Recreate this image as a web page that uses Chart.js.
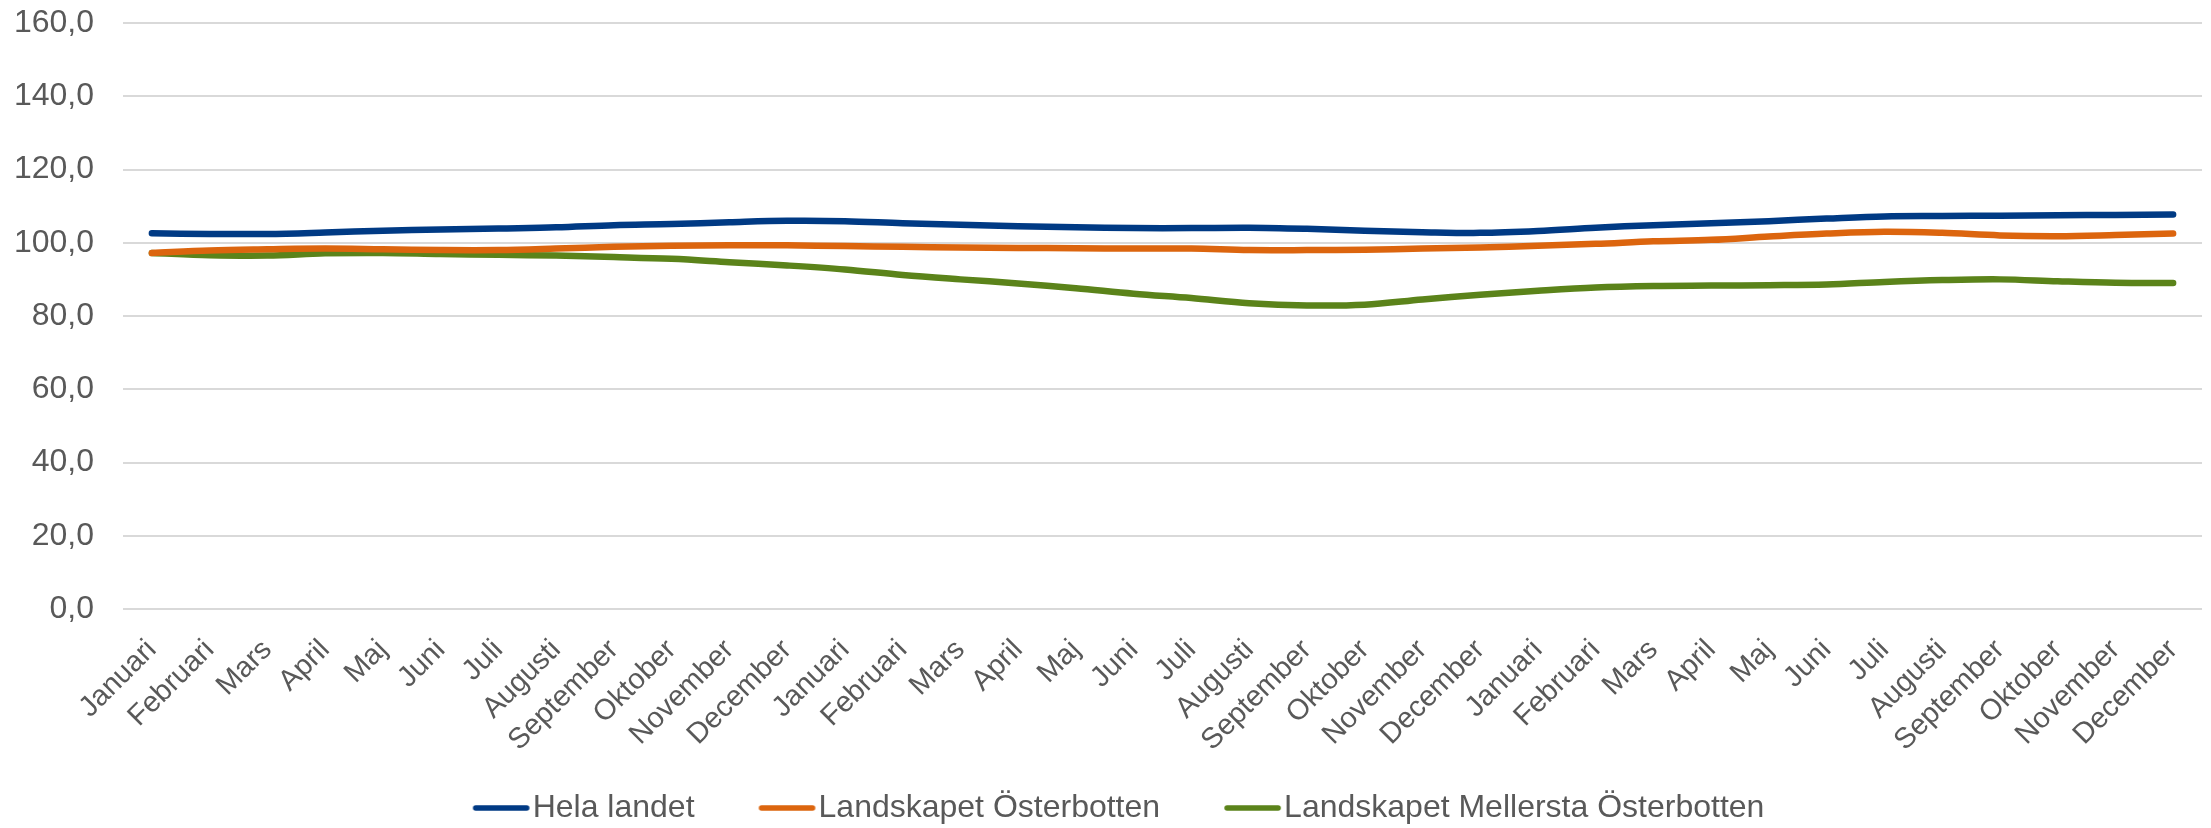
<!DOCTYPE html>
<html lang="sv">
<head>
    <meta charset="UTF-8">
    <title>Index</title>
    <script src="https://cdn.jsdelivr.net/npm/chart.js"></script>
    <style>
        html, body { margin: 0; padding: 0; background: #fff; }
        #wrap { width: 2211px; height: 828px; position: relative; }
    </style>
</head>
<body>
    <div id="wrap"><canvas id="indexChart"></canvas></div>

    <script>
        // Månader, tre år i rad
        const months = ['Januari', 'Februari', 'Mars', 'April', 'Maj', 'Juni',
                        'Juli', 'Augusti', 'September', 'Oktober', 'November', 'December'];
        const labels = [...months, ...months, ...months];

        const helaLandet = [102.6, 102.4, 102.4, 102.8, 103.3, 103.6, 103.9, 104.2, 104.8, 105.1, 105.6, 106.0,
                            105.9, 105.3, 104.9, 104.5, 104.2, 104.0, 104.0, 104.1, 103.8, 103.3, 102.9, 102.7,
                            103.2, 104.1, 104.8, 105.3, 105.9, 106.6, 107.2, 107.3, 107.4, 107.5, 107.6, 107.7];
        const osterbotten = [97.2, 97.9, 98.2, 98.4, 98.2, 98.0, 98.0, 98.4, 98.9, 99.2, 99.3, 99.3,
                             99.1, 98.9, 98.7, 98.6, 98.5, 98.4, 98.4, 98.0, 98.0, 98.1, 98.4, 98.7,
                             99.2, 99.7, 100.4, 100.8, 101.7, 102.5, 103.0, 102.7, 102.0, 101.8, 102.1, 102.5];
        const mellersta = [97.2, 96.6, 96.5, 97.1, 97.2, 96.9, 96.7, 96.5, 96.1, 95.6, 94.7, 93.8,
                           92.7, 91.2, 90.0, 88.9, 87.6, 86.1, 84.9, 83.5, 82.9, 83.1, 84.5, 85.8,
                           86.9, 87.8, 88.2, 88.3, 88.4, 88.6, 89.3, 89.8, 90.0, 89.5, 89.1, 89.0];

        const seriesNames = ['Hela landet', 'Landskapet Österbotten', 'Landskapet Mellersta Österbotten'];
        const seriesColors = ['#003a84', '#dc650e', '#5b831a'];

        const textColor = '#595959';
        Chart.defaults.font.family = '"Liberation Sans", Arial, sans-serif';
        Chart.defaults.font.size = 32;
        Chart.defaults.color = textColor;

        // legendlinje som bild: linjen slutar nära texten (som i Excel)
        const legendBox = 44;
        function legendLine(color) {
            const c = document.createElement('canvas');
            c.width = legendBox * 2 + 26;   // centrerad kring x + legendBox/2
            c.height = 10;
            const g = c.getContext('2d');
            g.strokeStyle = color;
            g.lineWidth = 5.5;
            g.lineCap = 'round';
            const x0 = c.width / 2 - legendBox / 2;
            g.beginPath();
            g.moveTo(x0 + 3, 5);
            g.lineTo(x0 + 54, 5);
            g.stroke();
            return c;
        }

        function makeSet(name, values, color) {
            return {
                label: name,
                data: values,
                borderColor: color,
                backgroundColor: color,
                borderWidth: 6.5,
                borderCapStyle: 'round',
                pointRadius: 0,
                pointHoverRadius: 0,
                pointStyle: legendLine(color),
                tension: 0.35,
                fill: false
            };
        }

        // låt etiketterna rinna utanför axelns ruta (annars klipps de)
        const noLabelClip = scale => { scale._computeLabelArea = () => undefined; };

        new Chart(document.getElementById('indexChart'), {
            type: 'line',
            data: {
                labels: labels,
                datasets: [
                    makeSet(seriesNames[0], helaLandet, seriesColors[0]),
                    makeSet(seriesNames[1], osterbotten, seriesColors[1]),
                    makeSet(seriesNames[2], mellersta, seriesColors[2])
                ]
            },
            options: {
                responsive: true,
                maintainAspectRatio: false,
                animation: false,
                layout: { padding: { top: 0, right: 9, bottom: -6, left: 35 } },
                plugins: {
                    tooltip: { enabled: false },
                    legend: {
                        position: 'bottom',
                        labels: {
                            usePointStyle: true,
                            pointStyleWidth: legendBox,
                            padding: 64,
                            color: textColor,
                            font: { size: 32 }
                        }
                    }
                },
                scales: {
                    x: {
                        offset: true,
                        grid: { display: false, drawTicks: false },
                        border: { display: false },
                        ticks: {
                            autoSkip: false,
                            maxRotation: 45,
                            minRotation: 45,
                            padding: 24,
                            color: textColor,
                            font: { size: 29 }
                        },
                        afterFit: function(scale) {
                            scale.height = 119;
                            scale.paddingLeft = 0;
                            scale.paddingRight = 0;
                            noLabelClip(scale);
                        }
                    },
                    y: {
                        min: 0,
                        max: 160,
                        grid: { color: '#d9d9d9', lineWidth: 2, drawTicks: false },
                        border: { display: false },
                        ticks: {
                            stepSize: 20,
                            padding: 29,
                            color: textColor,
                            font: { size: 32 },
                            callback: v => v.toFixed(1).replace('.', ',')
                        },
                        afterFit: function(scale) {
                            scale.width = 88;
                            scale.paddingTop = 23;
                            noLabelClip(scale);
                        }
                    }
                }
            }
        });
    </script>
</body>
</html>
